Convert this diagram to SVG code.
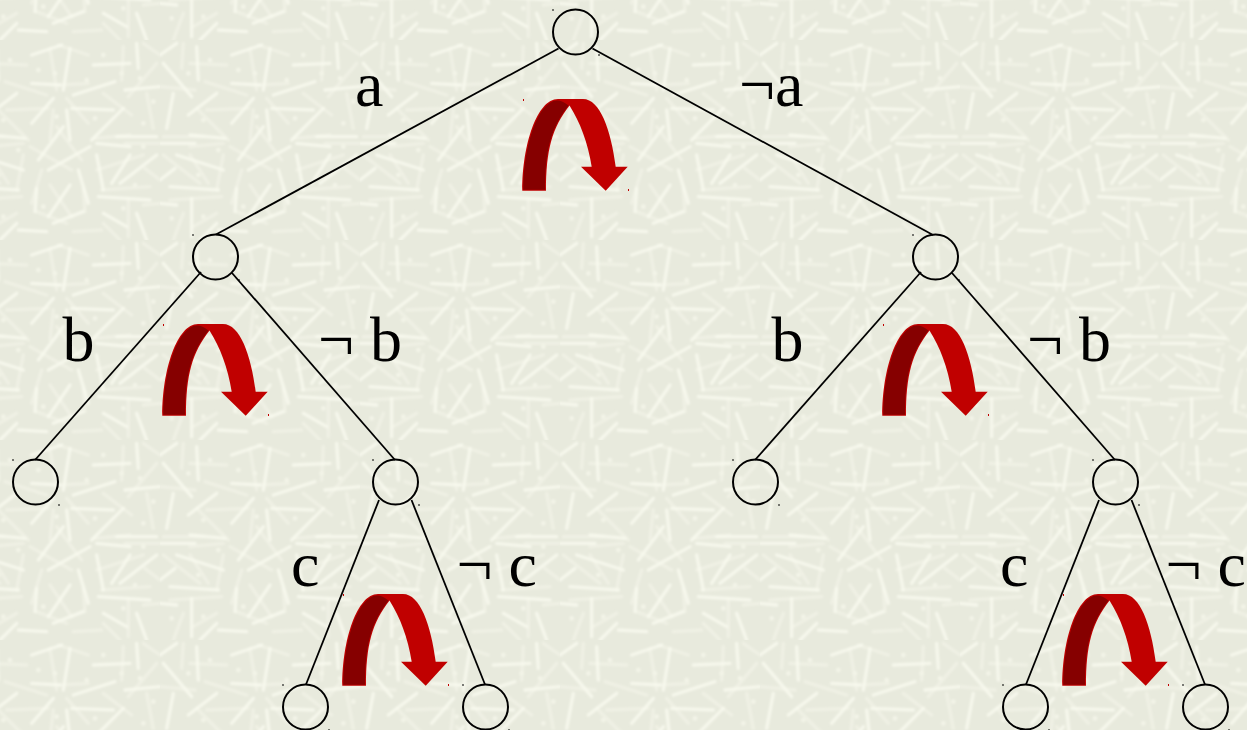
<svg xmlns="http://www.w3.org/2000/svg" width="1247" height="730" viewBox="0 0 1247 730">
<style>
.n{fill:none;stroke:#000;stroke-width:2}
.e{fill:none;stroke:#000;stroke-width:1.8}
.t{font-family:"Liberation Serif","Times New Roman",serif;font-size:64px;fill:#000}
.k{fill:#000}.r{fill:#c00000}
.tx{fill:none;stroke:#f8f9ee;stroke-width:10;stroke-linecap:round}
.td{fill:none;stroke:#f3f4e8;stroke-width:14;stroke-linecap:round}
</style>
<defs>
<filter id="soft" x="-5%" y="-5%" width="110%" height="110%"><feGaussianBlur stdDeviation="3.6"/></filter>
<path id="st" class="tx" d="M0 45L50 10M10 70L95 170M110 20L115 120M40 160L20 265M170 160L85 225M215 45L305 15M330 25L310 150M215 130L300 135M280 175L215 250M320 210L330 300M335 205L460 210M340 165L465 125M490 205L395 300M495 150L600 140M530 10L535 85M400 75L510 70M310 260L235 360M0 310L105 310M90 285L195 295M390 320L265 390M410 310L510 320M470 290L590 290M410 345L430 450M510 345L455 430M590 345L480 430M50 345L190 390M45 385L0 420M30 440L175 450M230 445L225 515M355 390L385 490M330 435L265 530M415 470L570 480M95 475L95 590M0 490L50 495M370 515L280 550M175 570L260 575M170 550L120 600M530 520L560 600M430 520L500 560"/>
<pattern id="bg" width="200" height="200" patternUnits="userSpaceOnUse" x="160" y="40">
<rect width="200" height="200" fill="#e8eadd"/>
<g transform="scale(.3333)" filter="url(#soft)">
<use href="#st" transform="translate(600 0) scale(-1 1)" opacity=".45"/>
<use href="#st" opacity=".85"/>
<path class="td" d="M235 90h.1M285 100h.1M380 120h.1M430 45h.1M485 100h.1M540 115h.1M130 240h.1M290 230h.1M405 235h.1M550 250h.1M580 185h.1M550 320h.1M175 330h.1M115 405h.1M525 435h.1M250 500h.1M130 530h.1M35 535h.1M490 505h.1M85 100h.1M150 60h.1"/>
</g>
</pattern>
<g id="arrow">
<path d="M522.3 190.7L546 190.7C546 150 552 128 569.5 105.5C580 122 588 143 591.7 166.7L581 166.7L605.7 190.7L627.7 166.7L615.7 166.7C611 130 600 99 583 99L558 99C537 99 522.3 145 522.3 190.7Z" fill="#c00000"/>
<path d="M523.3 189.7L545 189.7C545 150 551 128 568.5 105.5C564 102 561 100.5 557 100.5C538 101 523.3 146 523.3 189.7Z" fill="#860000"/>
<rect class="r" x="523" y="99" width="1" height="2"/>
<rect class="r" x="628" y="189" width="1" height="2"/>
</g>
<g id="circle">
<circle class="n" cx="0" cy="0" r="22.5"/>
<rect class="k" x="-23" y="-23" width="1" height="2"/>
<rect class="k" x="23" y="22" width="1" height="2"/>
</g>
</defs>
<rect width="1247" height="730" fill="url(#bg)"/>
<g id="connectors">
<path class="e" d="M558.5 48.5L216 234.5"/>
<path class="e" d="M592.5 48.5L933 235"/>
<path class="e" d="M201 272L35 460"/>
<path class="e" d="M232 273L395 460"/>
<path class="e" d="M921 272L755 460"/>
<path class="e" d="M952 273L1115 460"/>
<path class="e" d="M379 500L306 684.5"/>
<path class="e" d="M411.5 500L485 684.5"/>
<path class="e" d="M1099 500L1026 684.5"/>
<path class="e" d="M1131.5 500L1205 684.5"/>
</g>
<g id="node-root"><use href="#circle" x="575.5" y="32"/></g>
<g id="node-a"><use href="#circle" x="215.5" y="257"/></g>
<g id="node-na"><use href="#circle" x="935.5" y="257"/></g>
<g id="node-ab"><use href="#circle" x="35.5" y="482"/></g>
<g id="node-anb"><use href="#circle" x="395.5" y="482"/></g>
<g id="node-nab"><use href="#circle" x="755.5" y="482"/></g>
<g id="node-nanb"><use href="#circle" x="1115.5" y="482"/></g>
<g id="node-anbc"><use href="#circle" x="305.5" y="707"/></g>
<g id="node-anbnc"><use href="#circle" x="485.5" y="707"/></g>
<g id="node-nanbc"><use href="#circle" x="1025.5" y="707"/></g>
<g id="node-nanbnc"><use href="#circle" x="1205.5" y="707"/></g>
<g id="arrows">
<use href="#arrow"/>
<use href="#arrow" x="-360" y="225"/>
<use href="#arrow" x="360" y="225"/>
<use href="#arrow" x="-180" y="495"/>
<use href="#arrow" x="540" y="495"/>
</g>
<g id="labels">
<text class="t" x="355" y="106">a</text>
<text class="t" x="739" y="106">¬a</text>
<text class="t" x="62.5" y="361">b</text>
<text class="t" x="318" y="361">¬ b</text>
<text class="t" x="771.5" y="361">b</text>
<text class="t" x="1027" y="361">¬ b</text>
<text class="t" x="291" y="586">c</text>
<text class="t" x="456.5" y="586">¬ c</text>
<text class="t" x="1000" y="586">c</text>
<text class="t" x="1165.5" y="586">¬ c</text>
</g>
</svg>
